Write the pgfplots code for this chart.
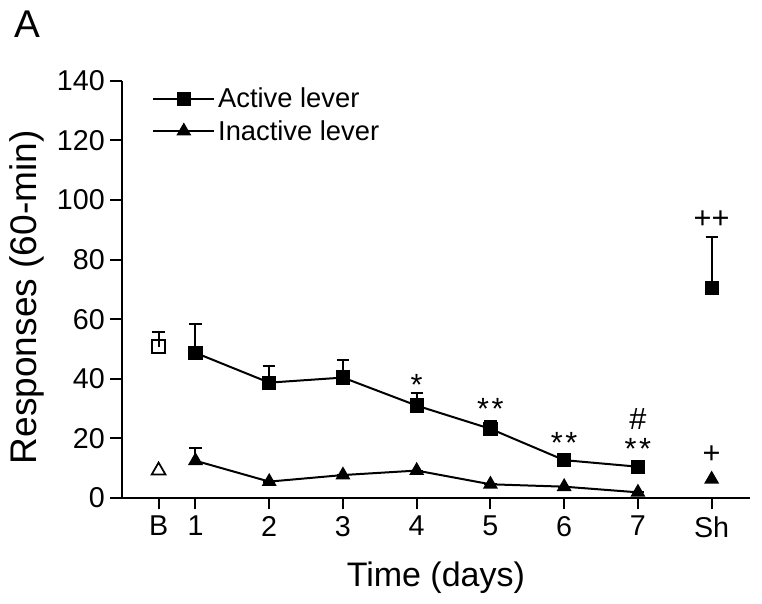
\documentclass[border=0pt]{standalone}
\usepackage{fontspec}
\setmainfont{Liberation Sans}
\usepackage{pgfplots}
\pgfplotsset{compat=1.18}
\begin{document}
\begin{tikzpicture}
\begin{axis}[
  name=ax,
  scale only axis, width=471.2pt, height=313pt,
  xmin=0, xmax=8.52, ymin=0, ymax=140,
  axis x line*=bottom, axis y line*=left,
  axis line style={line width=1.5pt, black},
  xtick={0.5,1,2,3,4,5,6,7,8},
  xticklabels={B,1,2,3,4,5,6,7,Sh},
  ytick={0,20,...,140},
  tick align=outside, major tick length=8.5pt,
  tick style={line width=1.5pt, black},
  /pgf/number format/assume math mode=true,
  tick label style={font=\fontsize{21.5}{26}\selectfont},
  yticklabel style={inner sep=4pt},
  xticklabel style={inner sep=5pt},
  xlabel style={font=\fontsize{25.5}{30}\selectfont},
  ylabel style={font=\fontsize{27.8}{32}\selectfont},
  xlabel={Time (days)},
  ylabel={Responses (60-min)},
  xlabel style={at={(axis description cs:0.5,-0.192)}, anchor=center},
  ylabel style={at={(axis description cs:-0.151,0.481)}, anchor=center},
  clip=false,
  legend style={draw=none, fill=none, at={(axis description cs:0.048,0.99)}, anchor=north west,
    font=\fontsize{20.5}{24}\selectfont, row sep=4pt, inner sep=0pt},
  legend cell align=left,
  legend image code/.code={\draw[mark repeat=2,mark phase=2,#1] plot coordinates {(0pt,0pt) (23pt,0pt) (46pt,0pt)};},
  error bars/error bar style={line width=1.5pt, black},
  error bars/error mark options={rotate=90, mark size=4.6pt, line width=1.5pt, black},
]
% Active lever, days 1-7
\addplot[black, line width=1.5pt, mark=square*, mark size=4.6pt, mark options={solid},
  error bars/.cd, y dir=plus, y explicit]
  coordinates {
  (1,48.7) +- (0,9.7)
  (2,38.7) +- (0,5.7)
  (3,40.4) +- (0,5.9)
  (4,31.0) +- (0,4.3)
  (5,23.2) +- (0,2.7)
  (6,12.7) +- (0,1.0)
  (7,10.5) +- (0,0.5)
  };
\addlegendentry{Active lever}
% Inactive lever, days 1-7
\addplot[black, line width=1.5pt, mark=triangle*, mark size=5pt, mark options={solid},
  error bars/.cd, y dir=plus, y explicit]
  coordinates {
  (1,12.5) +- (0,4.4)
  (2,5.5) +- (0,0)
  (3,7.7) +- (0,0)
  (4,9.2) +- (0,0)
  (5,4.6) +- (0,0)
  (6,3.8) +- (0,0)
  (7,1.9) +- (0,0)
  };
\addlegendentry{Inactive lever}
% Sh
\addplot[black, line width=1.5pt, only marks, mark=square*, mark size=4.6pt, forget plot,
  error bars/.cd, y dir=plus, y explicit]
  coordinates {(8,70.5) +- (0,17.0)};
\addplot[black, line width=1.5pt, only marks, mark=triangle*, mark size=5pt, forget plot]
  coordinates {(8,6.3)};
% Baseline (open)
\addplot[black, line width=1.5pt, only marks, mark=square, mark size=4.6pt, mark options={fill=white}, forget plot,
  error bars/.cd, y dir=plus, y explicit]
  coordinates {(0.5,50.8) +- (0,5.0)};
\addplot[black, line width=1.3pt, only marks, mark=triangle, mark size=6pt, mark options={fill=white}, forget plot]
  coordinates {(0.5,9.2)};
% annotations
\begin{scope}[every node/.style={font=\fontsize{23}{27}\selectfont, inner sep=0pt, anchor=center}]
\node at (axis cs:4,38.0) {*};
\node at (axis cs:5,29.8) {*\hspace{2pt}*};
\node at (axis cs:6,18.6) {*\hspace{2pt}*};
\node at (axis cs:7,16.4) {*\hspace{2pt}*};
\node at (axis cs:7,26.4) {\#};
\node at (axis cs:8,14.7) {+};
\node at (axis cs:8,93.5) {++};
\end{scope}
\end{axis}
\node[font=\fontsize{29}{34}\selectfont, anchor=center] at ([xshift=-71pt,yshift=42.5pt]ax.north west) {A};
\pgfresetboundingbox
\path[use as bounding box] ([xshift=-91.3pt,yshift=-79.5pt]ax.south west) rectangle ([xshift=9pt,yshift=60.5pt]ax.north east);
\end{tikzpicture}
\end{document}
